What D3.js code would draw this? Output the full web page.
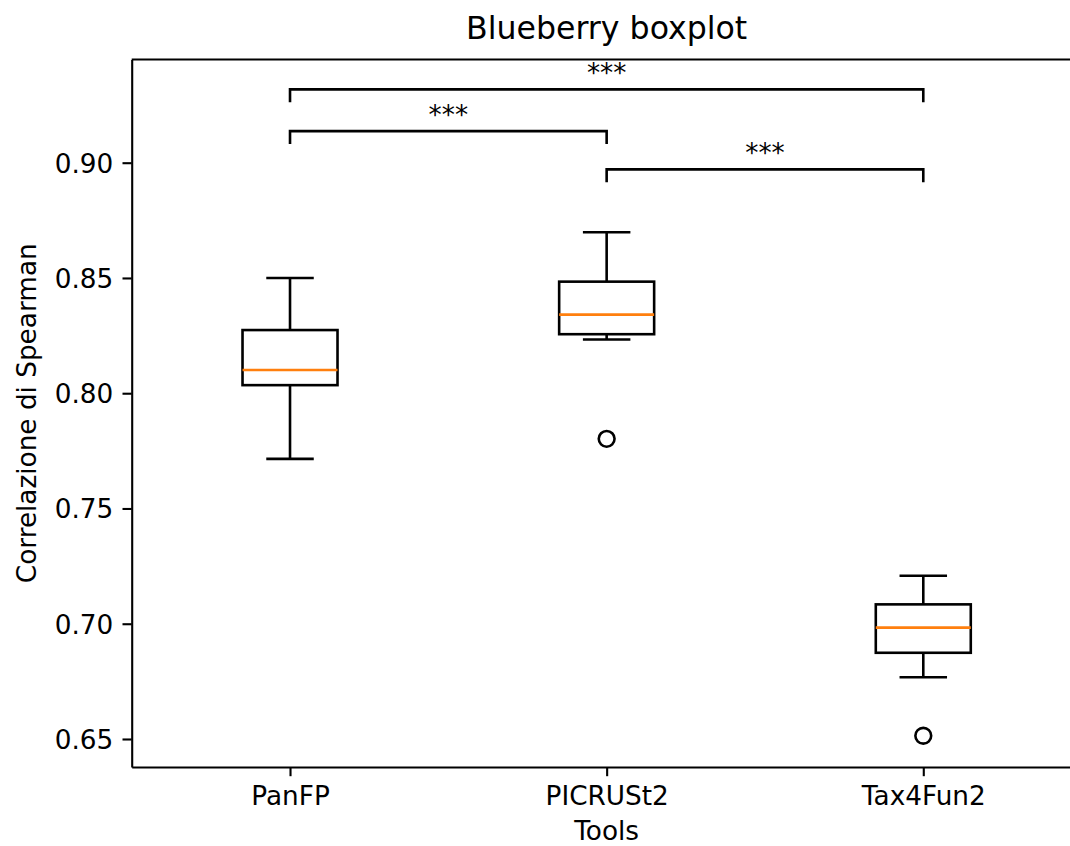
<!DOCTYPE html>
<html>
<head>
<meta charset="utf-8">
<script src="https://cdn.jsdelivr.net/npm/d3@7"></script>
<style>
  html, body { margin: 0; padding: 0; background: #fff; }
  svg { display: block; font-family: "DejaVu Sans", sans-serif; }
</style>
</head>
<body>
<svg id="chart" width="1070" height="846"></svg>
<script>
// --- dati ---
const tools = ["PanFP", "PICRUSt2", "Tax4Fun2"];
const whiskerLow  = [0.7715, 0.8233, 0.6768];
const q1          = [0.8035, 0.8256, 0.6874];
const medians     = [0.8101, 0.8341, 0.6983];
const q3          = [0.8274, 0.8484, 0.7084];
const whiskerHigh = [0.8500, 0.8698, 0.7208];
const outliers    = [[], [0.7802], [0.6514]];
const yTicks = [0.65, 0.70, 0.75, 0.80, 0.85, 0.90];

// confronti statistici (indici dei tool), altezza della barra, etichetta
const compPairs   = [[0, 2], [0, 1], [1, 2]];
const compHeights = [0.9318, 0.9137, 0.8971];
const compLabels  = ["***", "***", "***"];

// --- setup ---
const mLeft = 131.7, mRight = 1081.6, mTop = 59.5, mBottom = 767;
const svg = d3.select("#chart");

const x = d3.scaleLinear().domain([0.5, 3.5]).range([mLeft, mRight]);
const y = d3.scaleLinear().domain([0.63785, 0.94477]).range([mBottom, mTop]);

const boxHalf = 0.15, capHalf = 0.075, bracketDrop = 0.0056;
const lw = 2.6;

// boxplot
const g = svg.append("g");
tools.forEach((t, i) => {
  const cx = i + 1;
  // baffi
  g.append("line").attr("x1", x(cx)).attr("x2", x(cx))
    .attr("y1", y(q1[i])).attr("y2", y(whiskerLow[i]))
    .attr("stroke", "#000").attr("stroke-width", lw);
  g.append("line").attr("x1", x(cx)).attr("x2", x(cx))
    .attr("y1", y(q3[i])).attr("y2", y(whiskerHigh[i]))
    .attr("stroke", "#000").attr("stroke-width", lw);
  // cappucci
  [whiskerLow[i], whiskerHigh[i]].forEach(v => {
    g.append("line").attr("x1", x(cx - capHalf)).attr("x2", x(cx + capHalf))
      .attr("y1", y(v)).attr("y2", y(v))
      .attr("stroke", "#000").attr("stroke-width", lw);
  });
  // scatola
  g.append("rect")
    .attr("x", x(cx - boxHalf)).attr("width", x(cx + boxHalf) - x(cx - boxHalf))
    .attr("y", y(q3[i])).attr("height", y(q1[i]) - y(q3[i]))
    .attr("fill", "none").attr("stroke", "#000").attr("stroke-width", lw);
  // mediana
  g.append("line").attr("x1", x(cx - boxHalf)).attr("x2", x(cx + boxHalf))
    .attr("y1", y(medians[i])).attr("y2", y(medians[i]))
    .attr("stroke", "#ff7f0e").attr("stroke-width", lw);
  // outlier
  g.selectAll(null).data(outliers[i]).enter().append("circle")
    .attr("cx", x(cx)).attr("cy", d => y(d)).attr("r", 7.9)
    .attr("fill", "none").attr("stroke", "#000").attr("stroke-width", lw);
});

// barre di significatività
compPairs.forEach((p, k) => {
  const x1 = x(p[0] + 1), x2 = x(p[1] + 1), h = compHeights[k];
  svg.append("path")
    .attr("d", `M${x1},${y(h - bracketDrop)}L${x1},${y(h)}L${x2},${y(h)}L${x2},${y(h - bracketDrop)}`)
    .attr("fill", "none").attr("stroke", "#000").attr("stroke-width", lw);
  svg.append("text")
    .attr("x", (x1 + x2) / 2).attr("y", y(h) - 7.5)
    .attr("text-anchor", "middle").attr("font-size", 26.3)
    .text(compLabels[k]);
});

// assi
const yAxis = svg.append("g").attr("transform", `translate(${mLeft},0)`)
  .call(d3.axisLeft(y).tickValues(yTicks).tickFormat(d3.format(".2f"))
    .tickSize(9.2).tickPadding(9.2).tickSizeOuter(0));
const xAxis = svg.append("g").attr("transform", `translate(0,${mBottom})`)
  .call(d3.axisBottom(x).tickValues([1, 2, 3]).tickFormat(d => tools[d - 1])
    .tickSize(9.2).tickPadding(9.2).tickSizeOuter(0));

[yAxis, xAxis].forEach(a => {
  a.selectAll("path.domain").attr("stroke", "#000").attr("stroke-width", 2.1);
  a.selectAll(".tick line").attr("stroke", "#000").attr("stroke-width", 2.1);
  a.selectAll(".tick text").attr("fill", "#000").attr("font-size", 26.3)
    .attr("font-family", "DejaVu Sans, sans-serif");
});
yAxis.selectAll(".tick text").attr("dy", "0.36em");
xAxis.selectAll(".tick text").attr("dy", "0.76em");

// spine superiore e destra
svg.append("line").attr("x1", mLeft).attr("x2", mRight).attr("y1", mTop).attr("y2", mTop)
  .attr("stroke", "#000").attr("stroke-width", 2.1);
svg.append("line").attr("x1", mRight).attr("x2", mRight).attr("y1", mTop).attr("y2", mBottom)
  .attr("stroke", "#000").attr("stroke-width", 2.1);

// titoli
svg.append("text").attr("x", (mLeft + mRight) / 2).attr("y", 39)
  .attr("text-anchor", "middle").attr("font-size", 31.6).text("Blueberry boxplot");
svg.append("text").attr("x", (mLeft + mRight) / 2).attr("y", 839.5)
  .attr("text-anchor", "middle").attr("font-size", 26.3).text("Tools");
svg.append("text")
  .attr("transform", `translate(35.5,${(mTop + mBottom) / 2}) rotate(-90)`)
  .attr("text-anchor", "middle").attr("font-size", 26.3).text("Correlazione di Spearman");
</script>
</body>
</html>
